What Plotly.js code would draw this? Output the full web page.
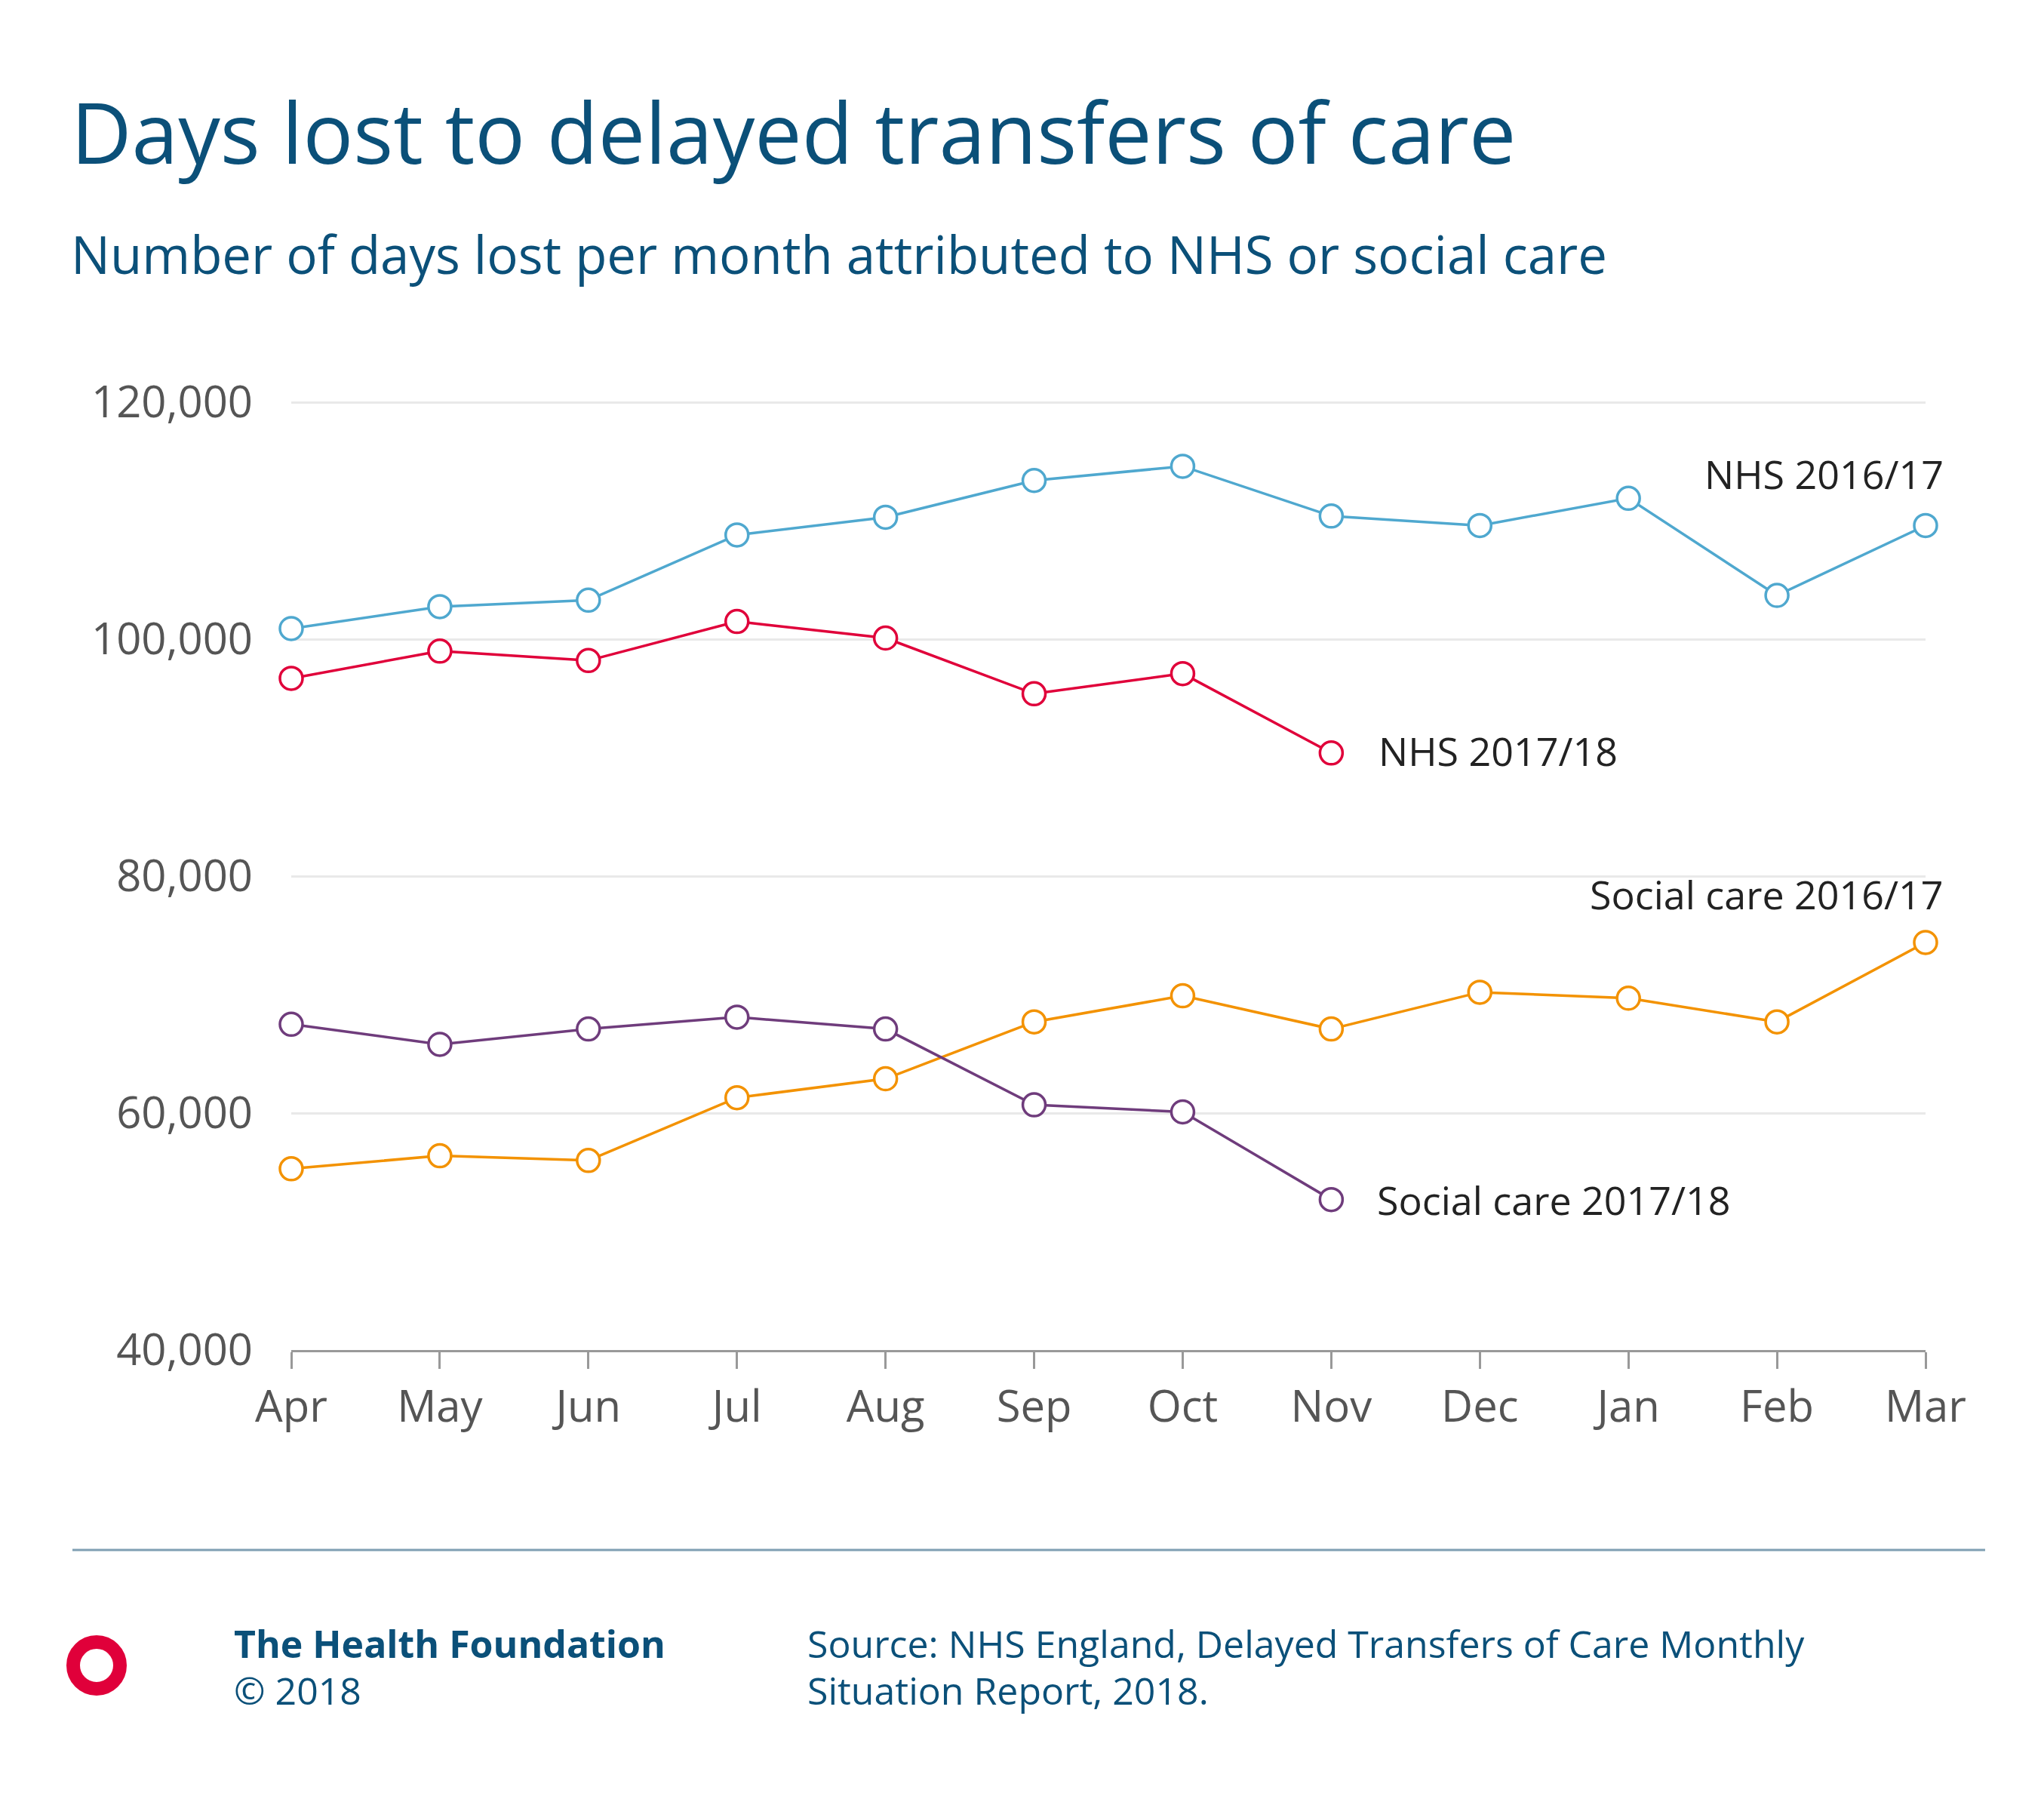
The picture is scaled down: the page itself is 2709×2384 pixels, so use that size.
<!DOCTYPE html>
<html>
<head>
<meta charset="utf-8">
<script src="https://cdn.plot.ly/plotly-3.0.1.min.js"></script>
<style>body{margin:0;background:#fff}</style>
</head>
<body>
<div id="chart" style="width:2709px;height:2384px"></div>
<script>
const months = ["Apr", "May", "Jun", "Jul", "Aug", "Sep", "Oct", "Nov", "Dec", "Jan", "Feb", "Mar"];
const nhs1617 = [100900, 102750, 103300, 108800, 110300, 113400, 114600, 110400, 109600, 111900, 103700, 109600];
const nhs1718 = [96700, 99000, 98200, 101500, 100100, 95400, 97100, 90400];
const social1617 = [55300, 56400, 56000, 61300, 62900, 67700, 69900, 67100, 70200, 69700, 67700, 74400];
const social1718 = [67500, 65800, 67100, 68100, 67100, 60700, 60100, 52700];
const yTicks = [40000, 60000, 80000, 100000, 120000];

// plot area in pixels
const W = 2709, H = 2384;
const L = 386, R = 2552, T = 530, B = 1789;
const px = x => (x - L) / (R - L);
const py = y => (B - y) / (B - T);

const font = "Open Sans, Liberation Sans, sans-serif";
const navy = "#0b5079";

function series(y, color) {
    return {
        type: "scatter", mode: "lines+markers",
        x: months.slice(0, y.length), y: y,
        line: { color: color, width: 3.5 },
        marker: { size: 30, color: "#fff", line: { color: color, width: 3.5 } },
        cliponaxis: false, hoverinfo: "skip",
    };
}

function label(text, x, y, anchor, opts = {}) {
    return Object.assign({
        text: text, xref: "paper", yref: "paper", x: px(x), y: py(y),
        xanchor: anchor, yanchor: "middle", showarrow: false,
        font: { family: font, size: 52, color: "#222" },
    }, opts);
}

const foot = { family: font, size: 50, color: navy };
const annotations = [
    label("Days lost to delayed transfers of care", 92, 174, "left", { font: { family: font, size: 111, color: navy } }),
    label("Number of days lost per month attributed to NHS or social care", 92, 336, "left", { font: { family: font, size: 69, color: navy } }),
    label("NHS 2016/17", 2578, 627, "right"),
    label("NHS 2017/18", 1825, 994, "left"),
    label("Social care 2016/17", 2578, 1184, "right"),
    label("Social care 2017/18", 1823, 1589, "left"),
    label("<b>The Health Foundation</b>", 308, 2178, "left", { font: foot }),
    label("© 2018", 308, 2240, "left", { font: foot }),
    label("Source: NHS England, Delayed Transfers of Care Monthly", 1068, 2178, "left", { font: foot }),
    label("Situation Report, 2018.", 1068, 2240, "left", { font: foot }),
];

const shapes = [
    { type: "line", xref: "paper", yref: "paper", x0: px(96), x1: px(2631), y0: py(2054), y1: py(2054),
      line: { color: "#7f9fb3", width: 3 } },
    { type: "circle", xref: "paper", yref: "paper", x0: px(97), x1: px(159), y0: py(2176), y1: py(2238),
      line: { color: "#e0003a", width: 18 }, fillcolor: "#fff" },
];

Plotly.newPlot("chart", [
    series(nhs1617, "#4fa8cf"),
    series(nhs1718, "#e0003a"),
    series(social1617, "#f39200"),
    series(social1718, "#6f3c7c"),
], {
    width: W, height: H,
    margin: { l: L, r: W - R, t: T, b: H - B, pad: 0 },
    showlegend: false,
    paper_bgcolor: "#fff", plot_bgcolor: "#fff",
    xaxis: {
        type: "category", categoryarray: months, range: [0, 11],
        showgrid: false, showline: true, linecolor: "#999", linewidth: 3,
        ticks: "outside", ticklen: 22, tickwidth: 3, tickcolor: "#999",
        tickfont: { family: font, size: 58, color: "#555" },
    },
    yaxis: {
        range: [40000, 120200], tickvals: yTicks, tickformat: ",",
        showgrid: true, gridcolor: "#e9e9e9", gridwidth: 3,
        zeroline: false, showline: false, ticks: "", ticklabelstandoff: 50,
        tickfont: { family: font, size: 58, color: "#555" },
    },
    annotations: annotations,
    shapes: shapes,
}, { staticPlot: true });
</script>
</body>
</html>
